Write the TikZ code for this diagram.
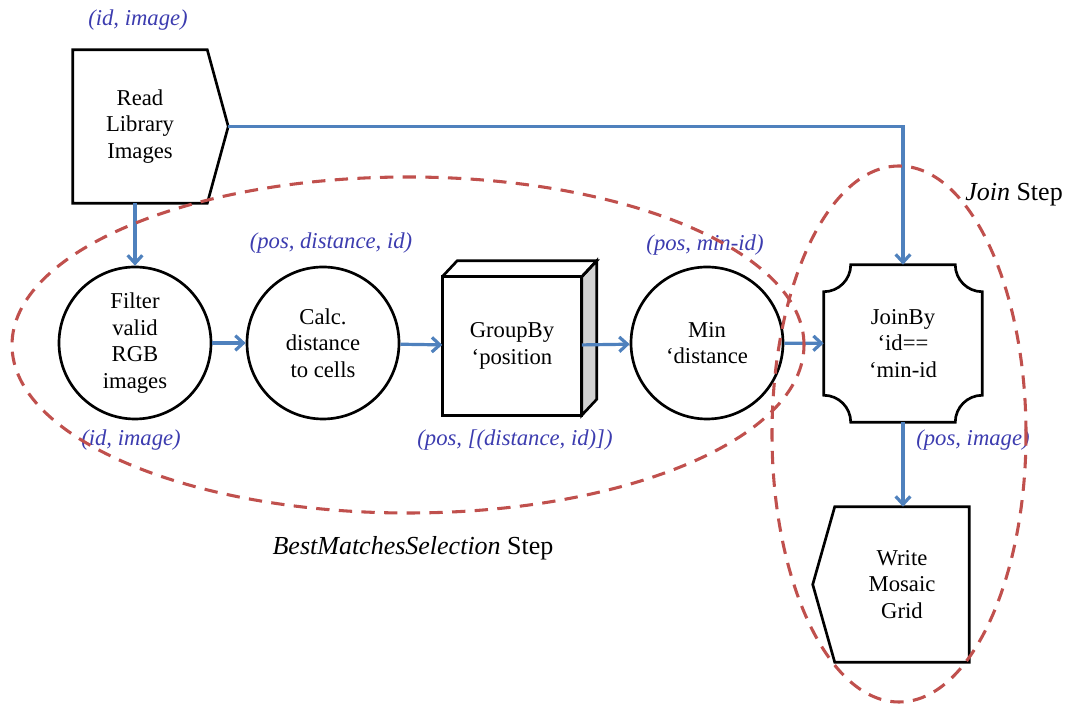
\documentclass[tikz,border=0pt]{standalone}
\usepackage{fontspec}
\setmainfont{Liberation Serif}
\usetikzlibrary{arrows.meta,calc,positioning}
\definecolor{flowblue}{RGB}{79,129,189}
\definecolor{ringred}{RGB}{192,80,77}
\definecolor{lblblue}{RGB}{60,60,175}
\tikzset{
  txt/.style={align=center,font=\fontsize{17}{20}\selectfont},
  steptxt/.style={font=\fontsize{19.5}{22}\selectfont},
  opcircle/.style={circle,draw,line width=2pt,minimum size=114pt,inner sep=0pt,txt},
  opbox/.style={rectangle,inner sep=0pt,txt},
  outline/.style={line width=2pt,line join=miter},
  flow/.style={draw=flowblue,line width=2.4pt,-{Straight Barb[length=6pt,width=11pt]}},
  lbl/.style={text=lblblue,font=\fontsize{17}{20}\selectfont\itshape},
  ring/.style={draw=ringred,line width=2.3pt,dash pattern=on 10pt off 7pt},
}
\begin{document}
\begin{tikzpicture}[x=0.75pt,y=0.75pt]
\useasboundingbox (0,0) rectangle (1068,706);

% operators
\node[opbox,minimum width=100.5pt,minimum height=114.75pt] (read) at (140,579.5) {Read\\Library\\Images};
\draw[outline] (read.north west) -- (read.north east) -- ($(read.east)+(21,0)$) coordinate (readtip)
      -- (read.south east) -- (read.south west) -- cycle;

\node[opcircle] (filter) at (135,363) {Filter\\valid\\RGB\\images};
\node[opcircle] (calc) at (323,363) {Calc.\\distance\\to cells};

\node[opbox,minimum width=104.25pt,minimum height=103.5pt] (group) at (512,360) {GroupBy\\`position};
\draw[outline,fill=gray!35] (group.north east) -- ++(15,16) -- ($(group.south east)+(15,16)$) -- (group.south east) -- cycle;
\draw[outline] (group.north west) -- ++(15,16) -- ($(group.north east)+(15,16)$) -- (group.north east);
\draw[outline] (group.north west) rectangle (group.south east);

\node[opcircle] (min) at (707,363) {Min\\`distance};

\node[opbox,minimum width=118.5pt,minimum height=117.75pt] (join) at (903,362.5) {JoinBy\\`id==\\`min-id};
\draw[outline] ($(join.north west)+(0,-27)$) arc[start angle=-90,end angle=0,radius=27]
      -- ($(join.north east)+(-27,0)$) arc[start angle=180,end angle=270,radius=27]
      -- ($(join.south east)+(0,27)$) arc[start angle=90,end angle=180,radius=27]
      -- ($(join.south west)+(27,0)$) arc[start angle=0,end angle=90,radius=27] -- cycle;

\node[opbox,minimum width=100.5pt,minimum height=116.25pt] (write) at (902,121.5) {Write\\Mosaic\\Grid};
\draw[outline] (write.north west) -- (write.north east) -- (write.south east) -- (write.south west)
      -- ($(write.west)+(-22,0)$) -- cycle;

% data flow
\draw[flow] (read.south -| filter.north) -- (filter.north);
\draw[flow] (filter) -- (calc);
\draw[flow] (calc) -- (group);
\draw[flow] (group) -- (min);
\draw[flow] (min) -- (join);
\draw[flow] (readtip) -| (join.north);
\draw[flow] (join.south) -- (join.south |- write.north);

% record types
\node[lbl] (lread) at (138,686) {(id, image)};
\node[lbl] (lfilter) at (131,266) {(id, image)};
\node[lbl] (lcalc) at (331,463) {(pos, distance, id)};
\node[lbl] (lgroup) at (515,266) {(pos, [(distance, id)])};
\node[lbl] (lmin) at (705,461) {(pos, min-id)};
\node[lbl] (ljoin) at (973,266) {(pos, image)};

% steps
\draw[ring] (408,361) ellipse [x radius=396,y radius=168];
\draw[ring] (899,272) ellipse [x radius=127,y radius=268];
\node[steptxt] (beststep) at (413,158) {\textit{BestMatchesSelection} Step};
\node[steptxt] (joinstep) at (1014,511) {\textit{Join} Step};
\end{tikzpicture}
\end{document}
